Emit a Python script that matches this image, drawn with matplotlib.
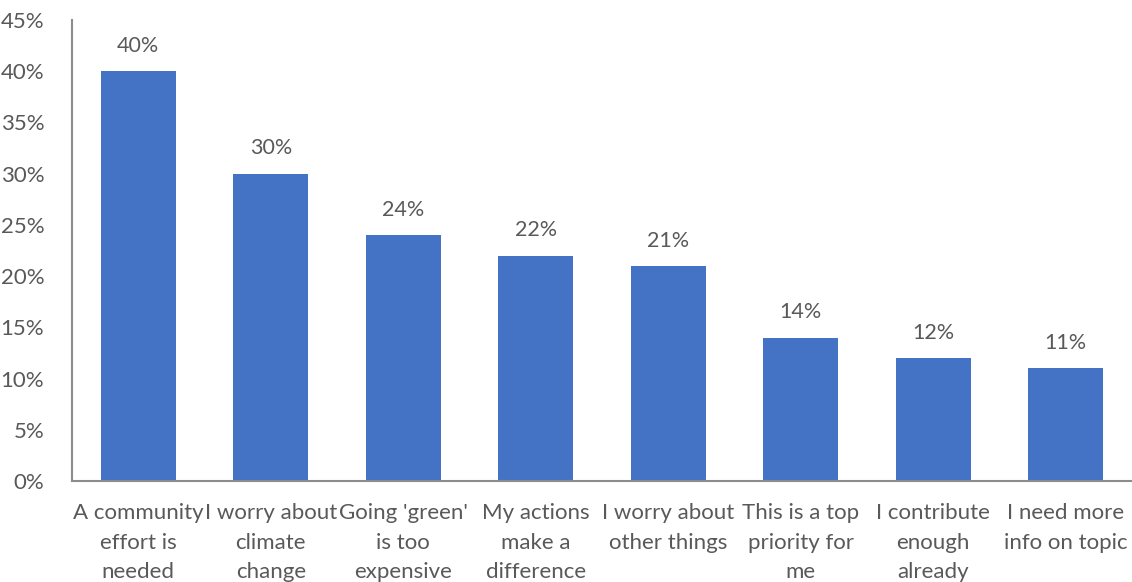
import matplotlib.pyplot as plt
from matplotlib.ticker import FuncFormatter

categories = [
    "A community\neffort is\nneeded",
    "I worry about\nclimate\nchange",
    "Going 'green'\nis too\nexpensive",
    "My actions\nmake a\ndifference",
    "I worry about\nother things",
    "This is a top\npriority for\nme",
    "I contribute\nenough\nalready",
    "I need more\ninfo on topic",
]
shares = [40, 30, 24, 22, 21, 14, 12, 11]

bar_color = "#4472C4"
text_color = "#595959"
axis_color = "#8c8c8c"

plt.rcParams["font.family"] = ["Lato", "DejaVu Sans"]

fig = plt.figure(figsize=(11.32, 5.82), dpi=100)
ax = fig.add_axes([72 / 1132, 1 - 481 / 582, 1 - 72 / 1132, (481 - 20) / 582])

x = range(len(categories))
bars = ax.bar(x, shares, width=0.565, color=bar_color, zorder=2)

for rect, v in zip(bars, shares):
    ax.annotate(f"{v}%", (rect.get_x() + rect.get_width() / 2, v),
                xytext=(0, 11), textcoords="offset points",
                ha="center", va="bottom", fontsize=15.5, color=text_color)

ax.set_xlim(-0.5, len(categories) - 0.5)
ax.set_ylim(0, 45)
ax.set_yticks(range(0, 46, 5))
ax.yaxis.set_major_formatter(FuncFormatter(lambda v, p: f"{v:.0f}%"))
ax.set_xticks(list(x))
ax.set_xticklabels(categories, linespacing=1.6)

ax.tick_params(axis="both", length=0, labelsize=16, labelcolor=text_color)
ax.tick_params(axis="y", pad=20)
ax.tick_params(axis="x", pad=16)

for side in ["top", "right"]:
    ax.spines[side].set_visible(False)
for side in ["left", "bottom"]:
    ax.spines[side].set_color(axis_color)
    ax.spines[side].set_linewidth(1.5)

fig.savefig("out.png", dpi=100)
